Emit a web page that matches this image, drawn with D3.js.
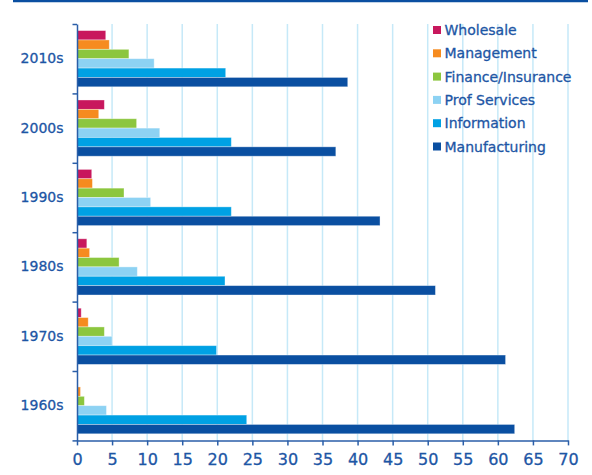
<!DOCTYPE html>
<html>
<head>
<meta charset="utf-8">
<script src="https://cdn.jsdelivr.net/npm/d3@7"></script>
<style>
  body { margin: 0; background: #fff; }
  text { font-family: "DejaVu Sans", sans-serif; fill: #1d56a5; stroke: #1d56a5; stroke-width: 0.3px; }
</style>
</head>
<body>
<div id="mycontent"></div>
<script>
// Decades, top to bottom
var decades = ["2010s", "2000s", "1990s", "1980s", "1970s", "1960s"];
// Sectors, in the order they are stacked inside each decade
var sectors = ["Wholesale", "Management", "Finance/Insurance", "Prof Services", "Information", "Manufacturing"];
var colors = ["#c8175d", "#f68b1f", "#8cc63e", "#8dd2f3", "#00a1e4", "#0a4fa1"];

// Values per sector, one number per decade (same order as decades)
var wholesale     = [4.1, 3.9, 2.1, 1.4, 0.6, 0];
var management    = [4.6, 3.1, 2.2, 1.8, 1.6, 0.5];
var finance       = [7.4, 8.5, 6.7, 6.0, 3.9, 1.05];
var profServices  = [11.0, 11.8, 10.5, 8.6, 5.0, 4.2];
var information   = [21.2, 22.0, 22.0, 21.1, 19.9, 24.2];
var manufacturing = [38.6, 36.9, 43.2, 51.1, 61.1, 62.4];
var xTicks = [0, 5, 10, 15, 20, 25, 30, 35, 40, 45, 50, 55, 60, 65, 70];

var series = [wholesale, management, finance, profServices, information, manufacturing];

var margin = { top: 24, right: 24, bottom: 35, left: 77 };

var svg = d3.select("#mycontent").append("svg")
    .attr("width", 592)
    .attr("height", 475);

// thin rule across the top
svg.append("line")
    .attr("x1", 13).attr("x2", 588)
    .attr("y1", 1).attr("y2", 1)
    .attr("stroke", "#0a4fa1")
    .attr("stroke-width", 2.5);

var g = svg.append("g")
    .attr("transform", "translate(" + margin.left + "," + margin.top + ")");

var xScale = d3.scaleLinear()
    .domain([0, 70])
    .range([0, 491]);

var plotH = 416.4;

var yScale = d3.scaleBand()
    .domain(decades)
    .range([0, plotH])
    .paddingInner(0.19)
    .paddingOuter(0.095);

var yInner = d3.scaleBand()
    .domain(sectors)
    .range([0, yScale.bandwidth()]);

// vertical grid lines
g.append("g")
    .selectAll("line")
    .data(xTicks.slice(1))
    .enter().append("line")
    .attr("x1", function (d) { return xScale(d); })
    .attr("x2", function (d) { return xScale(d); })
    .attr("y1", 0)
    .attr("y2", plotH)
    .attr("stroke", "#c6e9f8")
    .attr("stroke-width", 1.5);

// bars
var rows = [];
decades.forEach(function (dec, i) {
    sectors.forEach(function (s, j) {
        rows.push({ decade: dec, sector: s, value: series[j][i], color: colors[j] });
    });
});

g.append("g")
    .selectAll("rect")
    .data(rows.filter(function (d) { return d.value > 0; }))
    .enter().append("rect")
    .attr("x", xScale(0))
    .attr("y", function (d) { return yScale(d.decade) + yInner(d.sector); })
    .attr("width", function (d) { return xScale(d.value) - xScale(0); })
    .attr("height", yInner.bandwidth())
    .attr("fill", function (d) { return d.color; })
    .attr("stroke", "#ffffff")
    .attr("stroke-opacity", 0.45)
    .attr("stroke-width", 0.8);

// x axis
var xAxis = g.append("g")
    .attr("transform", "translate(0," + plotH + ")")
    .call(d3.axisBottom(xScale).tickValues(xTicks).tickSize(5).tickSizeOuter(0).tickPadding(8.5));
xAxis.selectAll("text").style("font-size", "16px");

// y axis line with ticks at group boundaries
var yEdges = d3.scaleLinear().domain([0, decades.length]).range([0, plotH]);
g.append("g")
    .call(d3.axisLeft(yEdges).ticks(6).tickFormat("").tickSize(4.5).tickSizeOuter(0));

// decade labels
var yAxis = g.append("g")
    .call(d3.axisLeft(yScale).tickSize(0).tickPadding(13.5));
yAxis.select(".domain").remove();
yAxis.selectAll("text").style("font-size", "14px");

g.selectAll(".domain, .tick line")
    .attr("stroke", "#2a5ea8")
    .attr("stroke-width", 1.5);

// legend
var legend = svg.append("g")
    .selectAll("g")
    .data(sectors)
    .enter().append("g")
    .attr("transform", function (d, i) { return "translate(433," + (30 + i * 23.3) + ")"; });

legend.append("rect")
    .attr("x", 0).attr("y", -4)
    .attr("width", 8).attr("height", 8)
    .attr("fill", function (d, i) { return colors[i]; });

legend.append("text")
    .attr("x", 11.5)
    .attr("dy", "0.36em")
    .style("font-size", "14px")
    .text(function (d) { return d; });
</script>
</body>
</html>
